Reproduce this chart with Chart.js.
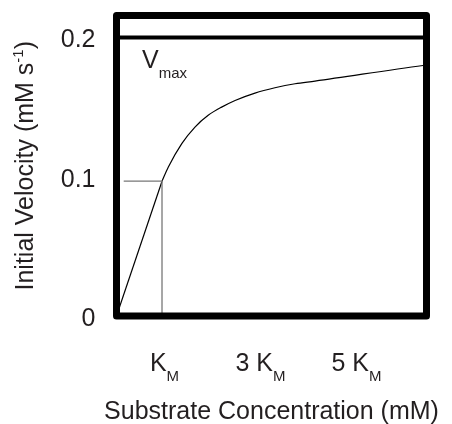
<!DOCTYPE html>
<html lang="en">
<head>
<meta charset="UTF-8">
<title>Initial Velocity vs Substrate Concentration</title>
<script src="https://cdn.jsdelivr.net/npm/chart.js@4.4.1/dist/chart.umd.min.js"></script>
<style>
  html, body { margin: 0; padding: 0; background: #fff; }
  #wrap { width: 452px; height: 424px; position: relative; }
</style>
</head>
<body>
<div id="wrap"><canvas id="chart"></canvas></div>
<script>
// x in units of K_M, y in mM s^-1
const rateX = [0, 0.948];
const rateY = [0, 0.0968];
const curveX = [0.948, 1.08, 1.36, 1.635, 1.91, 2.19, 2.47, 2.885, 3.30, 3.72, 4.135, 6.385, 6.458];
const curveY = [0.0968, 0.107, 0.1238, 0.1357, 0.1441, 0.150, 0.1548, 0.1601, 0.1639, 0.1668, 0.1687, 0.1799, 0.1802];
const guideX = [0.15, 0.948, 0.948];
const guideY = [0.0968, 0.0968, 0];
const vmax = 0.2;
const yTicks = [0, 0.1, 0.2];
const xTicks = [1, 3, 5];
const xTickPrefix = ['', '3 ', '5 '];
const xMax = 6.458;
const yMax = 0.2158;

const fam = "'Liberation Sans', Arial, sans-serif";
const textColor = '#231f20';

const pts = (xs, ys) => xs.map((x, i) => ({ x: x, y: ys[i] }));

// frame, subscripted labels and axis titles
const decorations = {
  id: 'decorations',
  afterDraw(chart) {
    const ctx = chart.ctx, a = chart.chartArea, xs = chart.scales.x;
    ctx.save();
    ctx.lineWidth = 7;
    ctx.strokeStyle = '#000';
    ctx.lineJoin = 'round';
    ctx.strokeRect(a.left, a.top, a.right - a.left, a.bottom - a.top);

    ctx.fillStyle = textColor;
    ctx.textBaseline = 'alphabetic';
    ctx.textAlign = 'left';

    // x tick labels: n K_M
    xTicks.forEach((v, i) => {
      const main = xTickPrefix[i] + 'K';
      ctx.font = '25px ' + fam;
      const w1 = ctx.measureText(main).width;
      ctx.font = '15px ' + fam;
      const w2 = ctx.measureText('M').width;
      const x = xs.getPixelForValue(v) - (w1 + w2) / 2;
      ctx.font = '25px ' + fam;
      ctx.fillText(main, x, 371);
      ctx.font = '15px ' + fam;
      ctx.fillText('M', x + w1, 381);
    });

    // V_max
    ctx.font = '25px ' + fam;
    ctx.fillText('V', 142, 68);
    const vw = ctx.measureText('V').width;
    ctx.font = '15px ' + fam;
    ctx.fillText('max', 142 + vw, 78);

    // x title
    ctx.font = '25px ' + fam;
    ctx.textAlign = 'center';
    ctx.fillText('Substrate Concentration (mM)', (a.left + a.right) / 2, 419);

    // y title with superscript
    const p1 = 'Initial Velocity (mM s', sup = '-1', p2 = ')';
    ctx.textAlign = 'left';
    ctx.font = '25px ' + fam;
    const w1 = ctx.measureText(p1).width, w3 = ctx.measureText(p2).width;
    ctx.font = '15px ' + fam;
    const w2 = ctx.measureText(sup).width;
    const total = w1 + w2 + w3;
    ctx.translate(33, (a.top + a.bottom) / 2);
    ctx.rotate(-Math.PI / 2);
    let x = -total / 2;
    ctx.font = '25px ' + fam;
    ctx.fillText(p1, x, 0);
    x += w1;
    ctx.font = '15px ' + fam;
    ctx.fillText(sup, x, -10);
    x += w2;
    ctx.font = '25px ' + fam;
    ctx.fillText(p2, x, 0);
    ctx.restore();
  }
};

new Chart(document.getElementById('chart'), {
  type: 'scatter',
  data: {
    datasets: [
      {
        data: pts([0, xMax], [vmax, vmax]),
        showLine: true, borderColor: '#000', borderWidth: 4, pointRadius: 0
      },
      {
        data: pts(guideX, guideY),
        showLine: true, borderColor: '#777', borderWidth: 1.3, pointRadius: 0
      },
      {
        data: pts(rateX, rateY),
        showLine: true, borderColor: '#000', borderWidth: 1.2, pointRadius: 0
      },
      {
        data: pts(curveX, curveY),
        showLine: true, borderColor: '#000', borderWidth: 1.2, pointRadius: 0,
        cubicInterpolationMode: 'monotone'
      }
    ]
  },
  options: {
    responsive: true,
    maintainAspectRatio: false,
    animation: false,
    layout: { padding: { top: 15.5, right: 25.5, left: 0, bottom: 0 } },
    plugins: { legend: { display: false }, tooltip: { enabled: false } },
    scales: {
      x: {
        type: 'linear', min: 0, max: xMax,
        grid: { display: false }, border: { display: false },
        ticks: { display: false },
        afterFit(s) {
          s.height = 108;
          s.paddingLeft = s.paddingRight = s.paddingTop = s.paddingBottom = 0;
        }
      },
      y: {
        type: 'linear', min: 0, max: yMax,
        grid: { display: false }, border: { display: false },
        afterBuildTicks(s) { s.ticks = yTicks.map(v => ({ value: v })); },
        afterFit(s) {
          s.width = 116.5;
          s.paddingLeft = s.paddingRight = s.paddingTop = s.paddingBottom = 0;
        },
        ticks: {
          padding: 13,
          labelOffset: 3,
          color: textColor,
          font: { family: fam, size: 25 },
          callback: v => (v === 0 ? '0' : v.toFixed(1))
        }
      }
    }
  },
  plugins: [decorations]
});
</script>
</body>
</html>
